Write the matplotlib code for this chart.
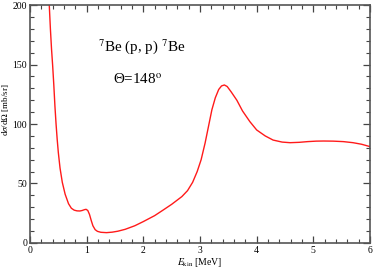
import numpy as np
import matplotlib.pyplot as plt
from matplotlib.ticker import MultipleLocator

# energy (MeV) and cross section (mb/sr)
e_kin = [0.34, 0.36, 0.38, 0.40, 0.42, 0.44, 0.46, 0.48, 0.50, 0.53, 0.57, 0.62,
         0.68, 0.73, 0.78, 0.83, 0.88, 0.92, 0.96, 0.99, 1.02, 1.05, 1.08, 1.11,
         1.15, 1.19, 1.25, 1.35, 1.45, 1.55, 1.68, 1.85, 2.00, 2.20, 2.35, 2.50,
         2.68, 2.78, 2.87, 2.95, 3.02, 3.09, 3.15, 3.21, 3.27, 3.33, 3.38, 3.43,
         3.48, 3.55, 3.65, 3.75, 3.88, 4.00, 4.15, 4.29, 4.45, 4.59, 4.75, 4.90,
         5.05, 5.18, 5.35, 5.53, 5.70, 5.85, 6.00]
dsig = [200, 180, 163, 149, 133, 115, 100, 87, 76, 63, 51, 41,
        33, 29.2, 27.6, 27.0, 26.9, 27.3, 28.0, 28.3, 27.3, 24.0, 19.0, 14.5,
        11.2, 9.8, 9.0, 8.7, 9.1, 9.9, 11.5, 14.5, 18.0, 23.0, 27.7, 32.5,
        39.0, 44.0, 51.0, 60.0, 70.0, 84.0, 98.0, 112.0, 122.0, 129.0, 132.0, 132.8,
        131.5, 127.0, 120.0, 111.0, 102.0, 95.0, 90.0, 86.5, 84.8, 84.3, 84.6, 85.2,
        85.6, 85.7, 85.6, 85.2, 84.3, 83.0, 81.0]

plt.rcParams['font.family'] = 'Liberation Serif'
plt.rcParams['mathtext.fontset'] = 'stix'

fig = plt.figure(figsize=(3.74, 2.68), dpi=100)
ax = fig.add_axes([0.0802, 0.0933, 0.9091, 0.888])

ax.plot(e_kin, dsig, color='#ff1a1a', lw=1.0)

ax.set_xlim(0, 6)
ax.set_ylim(0, 200)
ax.xaxis.set_major_locator(MultipleLocator(1))
ax.xaxis.set_minor_locator(MultipleLocator(0.2))
ax.yaxis.set_major_locator(MultipleLocator(50))
ax.yaxis.set_minor_locator(MultipleLocator(10))
ax.tick_params(which='both', direction='in', top=True, right=True, color='#444444',
               labelsize=7, pad=2)
ax.tick_params(which='major', length=5, width=0.9)
ax.tick_params(which='minor', length=3, width=0.8)
for s in ax.spines.values():
    s.set_color('#555555')
    s.set_linewidth(1.2)

ax.set_xlabel(r'$E_{\rm kin}$ [MeV]', fontsize=7, labelpad=1)
ax.set_ylabel(r'd$\sigma$/d$\Omega$ [mb/sr]', fontsize=6.5)
ax.yaxis.set_label_coords(-0.056, 0.56)

ax.text(142 / 374, 1 - 47 / 268, r'$^7$Be (p, p) $^7$Be', transform=fig.transFigure,
        fontsize=10.8, ha='center', va='center')
ax.text(137.5 / 374, 1 - 80 / 268, 'Θ=148$^{\\rm o}$', transform=fig.transFigure,
        fontsize=10.8, ha='center', va='center')

fig.savefig('out.png', dpi=100)
